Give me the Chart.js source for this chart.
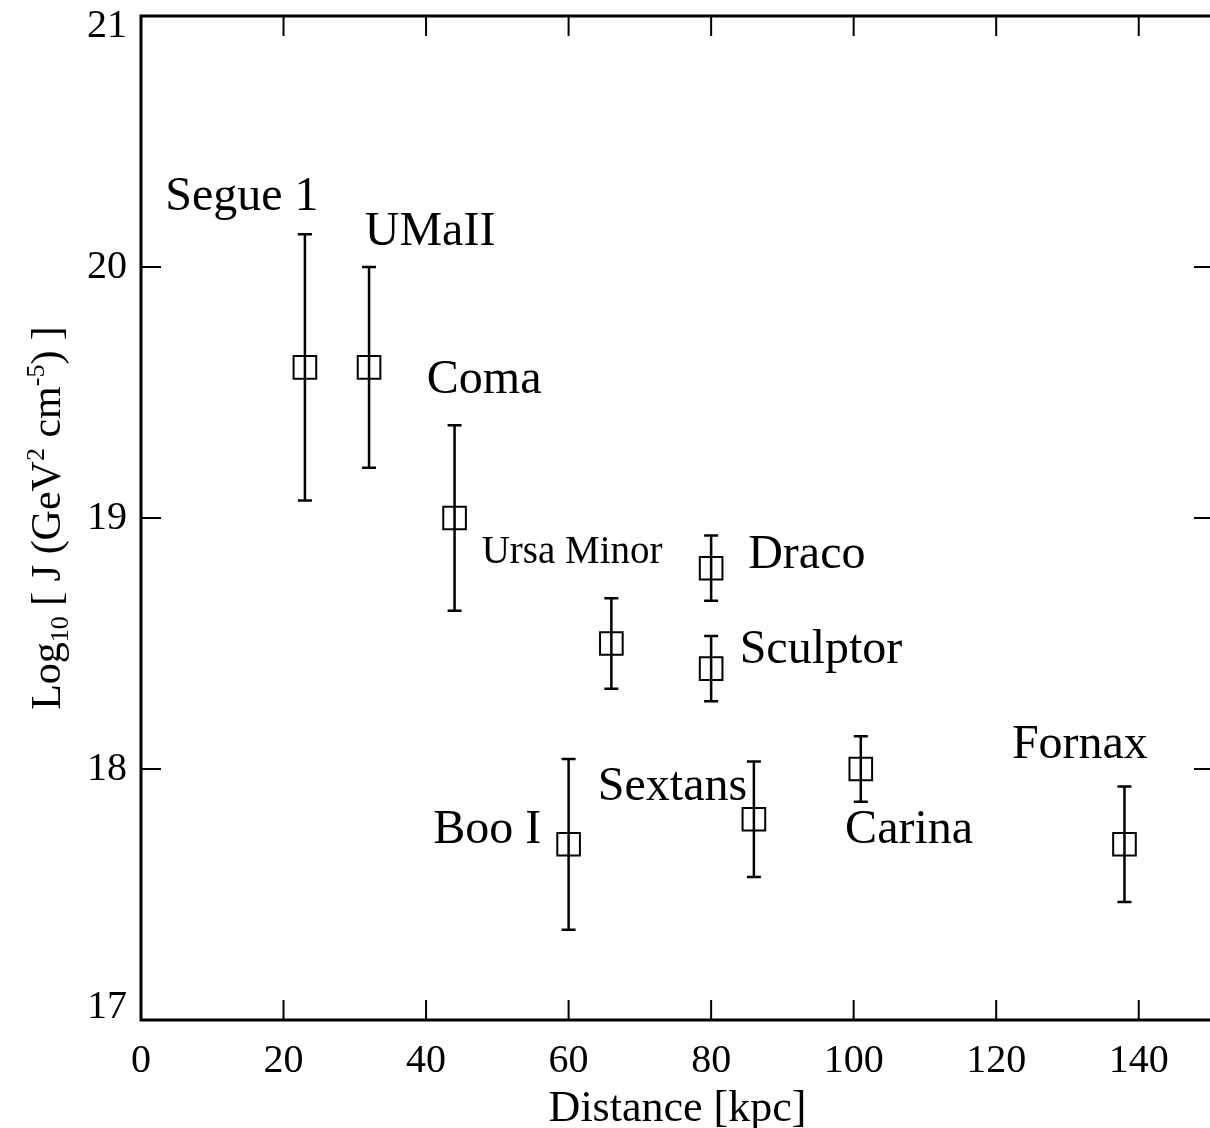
<!DOCTYPE html>
<html>
<head>
<meta charset="utf-8">
<script src="https://cdn.jsdelivr.net/npm/chart.js@4.4.0/dist/chart.umd.min.js"></script>
<style>
html, body { margin: 0; padding: 0; background: #fff; }
</style>
</head>
<body>
<canvas id="jChart" width="1210" height="1128"></canvas>
<script>
const galaxies = ['Segue 1', 'UMaII', 'Coma', 'Ursa Minor', 'Draco', 'Sculptor', 'Boo I', 'Sextans', 'Carina', 'Fornax'];
const distanceKpc = [23, 32, 44, 66, 80, 80, 60, 86, 101, 138];
const logJ = [19.6, 19.6, 19.0, 18.5, 18.8, 18.4, 17.7, 17.8, 18.0, 17.7];
const logJUpper = [20.13, 20.0, 19.37, 18.68, 18.93, 18.53, 18.04, 18.03, 18.13, 17.93];
const logJLower = [19.07, 19.2, 18.63, 18.32, 18.67, 18.27, 17.36, 17.57, 17.87, 17.47];
const xTickValues = [0, 20, 40, 60, 80, 100, 120, 140];
const yTickValues = [17, 18, 19, 20, 21];
// where each name sits (left edge, baseline), in data units
const labelX = [3.4, 31.4, 40.1, 47.8, 85.2, 84.0, 41.0, 64.1, 98.8, 122.2];
const labelY = [20.227, 20.088, 19.498, 18.821, 18.801, 18.422, 17.705, 17.876, 17.705, 18.044];

const FONT = "'Liberation Serif', 'DejaVu Serif', serif";

const framePlugin = {
    id: 'frame',
    afterDatasetsDraw(chart) {
        const ctx = chart.ctx;
        const a = chart.chartArea;
        const x = chart.scales.x;
        const y = chart.scales.y;
        ctx.save();
        ctx.strokeStyle = '#000';
        ctx.lineCap = 'butt';

        // error bars
        ctx.lineWidth = 2.5;
        distanceKpc.forEach((d, i) => {
            const px = x.getPixelForValue(d);
            const top = y.getPixelForValue(logJUpper[i]);
            const bot = y.getPixelForValue(logJLower[i]);
            ctx.beginPath();
            ctx.moveTo(px, top); ctx.lineTo(px, bot);
            ctx.moveTo(px - 7, top); ctx.lineTo(px + 7, top);
            ctx.moveTo(px - 7, bot); ctx.lineTo(px + 7, bot);
            ctx.stroke();
        });

        // box (right side falls just off the page)
        ctx.lineWidth = 3;
        ctx.beginPath();
        ctx.moveTo(a.right + 5, a.top);
        ctx.lineTo(a.left, a.top);
        ctx.lineTo(a.left, a.bottom);
        ctx.lineTo(a.right + 5, a.bottom);
        ctx.stroke();

        // inward ticks on all four sides
        ctx.lineWidth = 2;
        ctx.beginPath();
        xTickValues.forEach(v => {
            const px = x.getPixelForValue(v);
            ctx.moveTo(px, a.bottom); ctx.lineTo(px, a.bottom - 20);
            ctx.moveTo(px, a.top); ctx.lineTo(px, a.top + 20);
        });
        yTickValues.forEach(v => {
            const py = y.getPixelForValue(v);
            ctx.moveTo(a.left, py); ctx.lineTo(a.left + 20, py);
            ctx.moveTo(a.right, py); ctx.lineTo(a.right - 16, py);
        });
        ctx.stroke();

        ctx.fillStyle = '#000';
        ctx.font = '40px ' + FONT;

        // x tick labels
        ctx.textAlign = 'center';
        ctx.textBaseline = 'alphabetic';
        xTickValues.forEach(v => {
            ctx.fillText(String(v), x.getPixelForValue(v), a.bottom + 52);
        });

        // y tick labels, end ones pulled inside the box height
        ctx.textAlign = 'right';
        ctx.textBaseline = 'middle';
        yTickValues.forEach(v => {
            const py = Math.min(Math.max(y.getPixelForValue(v), a.top + 10), a.bottom - 13);
            ctx.fillText(String(v), a.left - 14, py);
        });

        // galaxy names
        ctx.textAlign = 'left';
        ctx.textBaseline = 'alphabetic';
        galaxies.forEach((name, i) => {
            const size = name === 'Ursa Minor' ? 39 : 48;
            ctx.font = size + 'px ' + FONT;
            ctx.fillText(name, x.getPixelForValue(labelX[i]), y.getPixelForValue(labelY[i]));
        });

        // x title
        ctx.textAlign = 'center';
        ctx.font = '44px ' + FONT;
        ctx.fillText('Distance [kpc]', (a.left + a.right) / 2 + 2, 1121);

        // y title with sub/superscripts
        const parts = [
            ['Log', 0], ['10', 1], [' [ J (GeV', 0], ['2', -1], [' cm', 0], ['-5', -1], [') ]', 0]
        ];
        const big = '42px ' + FONT;
        const small = '26px ' + FONT;
        let total = 0;
        parts.forEach(p => {
            ctx.font = p[1] === 0 ? big : small;
            total += ctx.measureText(p[0]).width;
        });
        ctx.translate(60, (a.top + a.bottom) / 2);
        ctx.rotate(-Math.PI / 2);
        ctx.textAlign = 'left';
        let cx = -total / 2;
        parts.forEach(p => {
            ctx.font = p[1] === 0 ? big : small;
            const dy = p[1] === 1 ? 8 : (p[1] === -1 ? -16 : 0);
            ctx.fillText(p[0], cx, dy);
            cx += ctx.measureText(p[0]).width;
        });
        ctx.restore();
    }
};

new Chart(document.getElementById('jChart').getContext('2d'), {
    type: 'scatter',
    data: {
        datasets: [{
            label: 'log10 J',
            data: distanceKpc.map((d, i) => ({x: d, y: logJ[i]})),
            pointStyle: 'rect',
            pointRadius: 16,
            pointHoverRadius: 16,
            borderColor: '#000',
            borderWidth: 2,
            backgroundColor: 'rgba(0,0,0,0)'
        }]
    },
    options: {
        responsive: false,
        animation: false,
        events: [],
        layout: {autoPadding: false, padding: {top: 16, right: 0, left: 0, bottom: 0}},
        plugins: {legend: {display: false}, tooltip: {enabled: false}},
        scales: {
            x: {
                type: 'linear',
                min: 0,
                max: 150,
                grid: {display: false, drawTicks: false},
                border: {display: false},
                afterBuildTicks: s => { s.ticks = xTickValues.map(v => ({value: v})); },
                afterFit: s => { s.height = 108; },
                ticks: {display: false}
            },
            y: {
                type: 'linear',
                min: 17,
                max: 21,
                grid: {display: false, drawTicks: false},
                border: {display: false},
                afterBuildTicks: s => { s.ticks = yTickValues.map(v => ({value: v})); },
                afterFit: s => { s.width = 141; },
                ticks: {display: false}
            }
        }
    },
    plugins: [framePlugin]
});
</script>
</body>
</html>
